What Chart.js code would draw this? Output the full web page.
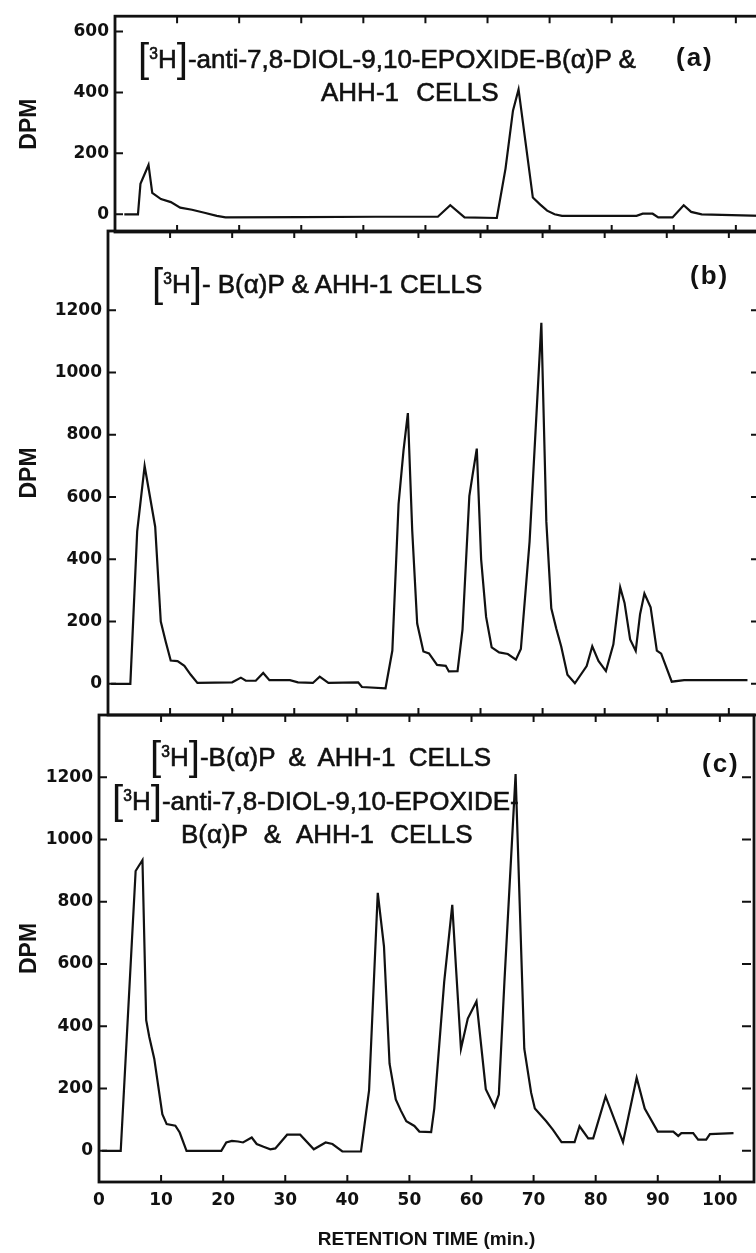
<!DOCTYPE html>
<html>
<head>
<meta charset="utf-8">
<script src="https://cdn.jsdelivr.net/npm/chart.js@4.4.1/dist/chart.umd.min.js"></script>
<style>
  html, body { margin: 0; padding: 0; background: #fff; }
  body { width: 756px; height: 1253px; position: relative; overflow: hidden; }
  canvas { position: absolute; left: 0; }
  .lbl { position: absolute; font-family: "Liberation Sans", Arial, sans-serif; font-size: 26px;
         line-height: 26px; color: #111; white-space: nowrap; -webkit-text-stroke: 0.6px #111; }
  .br { font-size: 1.55em; line-height: 0; vertical-align: -0.1em; -webkit-text-stroke: 0; }
  .lbl sup { font-size: 0.6em; line-height: 0; vertical-align: 0.6em; }
  .tag { font-weight: bold; letter-spacing: 2px; -webkit-text-stroke: 0; }
</style>
</head>
<body>
<canvas id="chartA" width="790" height="250" style="top:0px"></canvas>
<canvas id="chartB" width="790" height="530" style="top:211px"></canvas>
<canvas id="chartC" width="790" height="558" style="top:695px"></canvas>

<div class="lbl" style="left:138px; top:46px"><span class="br">[</span><sup>3</sup>H<span class="br">]</span>-anti-7,8-DIOL-9,10-EPOXIDE-B(α)P &amp;</div>
<div class="lbl" style="left:321px; top:79px; word-spacing:10px">AHH-1 CELLS</div>
<div class="lbl tag" style="left:676px; top:44px">(a)</div>

<div class="lbl" style="left:152px; top:271px"><span class="br">[</span><sup>3</sup>H<span class="br">]</span>- B(α)P &amp; AHH-1 CELLS</div>
<div class="lbl tag" style="left:690px; top:262px">(b)</div>

<div class="lbl" style="left:150px; top:744px; word-spacing:6px"><span class="br">[</span><sup>3</sup>H<span class="br">]</span>-B(α)P &amp; AHH-1 CELLS</div>
<div class="lbl" style="left:112px; top:788px"><span class="br">[</span><sup>3</sup>H<span class="br">]</span>-anti-7,8-DIOL-9,10-EPOXIDE-</div>
<div class="lbl" style="left:181px; top:821px; word-spacing:9px">B(α)P &amp; AHH-1 CELLS</div>
<div class="lbl tag" style="left:702px; top:750px">(c)</div>

<script>
// retention time (min) and DPM
const timeA = [1.5, 3.7, 4.1, 5.4, 6.0, 7.4, 9.0, 10.5, 12.4, 14.4, 16.4, 17.8, 30, 42, 52.0, 54.0, 56.3, 61.5,
  62.9, 64.1, 65.0, 66.1, 67.3, 68.5, 69.6, 70.8, 72, 84.0, 85.0, 86.6, 87.5, 89.8, 91.6, 92.8, 94.5, 104.2];
const dpmA = [0, 0, 100, 162, 70, 50, 40, 22, 15, 5, -5, -10, -9, -8, -8, 30, -10, -12,
  150, 340, 410, 240, 55, 32, 12, 0, -5, -5, 2, 2, -10, -10, 30, 8, 0, -5];

const timeB = [0.5, 3.6, 4.7, 5.9, 7.6, 8.5, 9.3, 10.1, 11.2, 12.3, 13.3, 14.4, 20.0, 21.4, 22.2, 23.8, 25.0, 26.0,
  29.3, 30.6, 33.0, 34.1, 35.5, 40.3, 40.9, 44.7, 45.8, 46.8, 47.6, 48.3, 49.0, 49.8, 50.8, 51.7, 53.0, 54.4,
  54.9, 56.3, 57.1, 58.2, 58.7, 59.4, 60.1, 60.9, 61.8, 63.0, 64.4, 65.7, 66.5, 67.9, 69.0, 69.8, 70.6, 71.4,
  72.2, 73.0, 74.0, 75.2, 77.1, 78.0, 79.0, 80.2, 81.4, 82.5, 83.2, 84.1, 85.0, 85.7, 86.4, 87.4, 88.4, 89.1,
  90.8, 92.8, 103.0];
const dpmB = [0, 0, 490, 700, 505, 200, 135, 75, 73, 58, 30, 3, 5, 20, 10, 10, 35, 12,
  12, 5, 3, 23, 3, 5, -10, -14, 107, 578, 750, 870, 493, 194, 104, 98, 61, 58,
  40, 41, 174, 603, 668, 756, 400, 215, 117, 101, 96, 78, 112, 456, 862, 1160, 522, 243,
  178, 120, 29, 2, 57, 121, 74, 41, 127, 310, 260, 143, 106, 224, 290, 246, 107, 97,
  7, 12, 12];

const timeC = [0.5, 3.5, 5.9, 6.4, 7.0, 7.6, 8.1, 8.9, 10.2, 10.9, 12.3, 13.0, 14.1, 19.7, 20.5, 21.4, 22.4, 23.2,
  24.6, 25.4, 26.5, 27.6, 28.4, 30.3, 32.4, 34.6, 36.5, 37.6, 39.2, 42.2, 43.5, 44.9, 45.9, 46.8, 47.8, 48.6,
  49.5, 50.8, 51.6, 53.5, 54.0, 55.6, 56.9, 57.5, 58.3, 59.4, 60.8, 62.3, 63.7, 64.4, 65.3, 67.1, 68.5, 69.6,
  70.2, 72.0, 73.1, 74.5, 76.6, 77.4, 78.8, 79.6, 81.6, 84.4, 86.6, 87.9, 90.0, 92.5, 93.3, 93.8, 95.7, 96.5,
  97.8, 98.4, 102.2];
const dpmC = [0, 0, 899, 915, 934, 420, 366, 296, 118, 86, 81, 59, 0, 0, 27, 32, 30, 27,
  43, 22, 13, 5, 8, 52, 52, 5, 27, 22, -2, -2, 194, 829, 657, 280, 165, 130,
  95, 80, 62, 60, 136, 543, 790, 589, 328, 425, 480, 198, 141, 181, 543, 1210, 328, 187,
  136, 96, 68, 28, 28, 79, 40, 40, 175, 28, 235, 136, 62, 62, 48, 57, 57, 36,
  36, 54, 57];

const xTicks = [0, 10, 20, 30, 40, 50, 60, 70, 80, 90, 100];
const yTicksA = [0, 200, 400, 600];
const yTicksBC = [0, 200, 400, 600, 800, 1000, 1200];

const INK = '#111';
const tickFont = { family: '"DejaVu Sans", sans-serif', size: 17, weight: 'bold' };

// box around each panel plus the inward tick marks on all four sides
const framePlugin = {
  id: 'frame',
  afterDraw(chart) {
    const { ctx, chartArea: a, scales: { x, y } } = chart;
    ctx.save();
    ctx.strokeStyle = INK;
    ctx.lineWidth = 2.8;
    ctx.strokeRect(a.left, a.top, a.right - a.left, a.bottom - a.top);
    ctx.lineWidth = 2;
    ctx.beginPath();
    xTicks.forEach(v => {
      const px = x.getPixelForValue(v);
      ctx.moveTo(px, a.top); ctx.lineTo(px, a.top + 7);
      ctx.moveTo(px, a.bottom); ctx.lineTo(px, a.bottom - 7);
    });
    y.ticks.forEach(t => {
      const py = y.getPixelForValue(t.value);
      ctx.moveTo(a.left, py); ctx.lineTo(a.left + 8, py);
      ctx.moveTo(a.right - 3, py); ctx.lineTo(a.right - 12, py);
    });
    ctx.stroke();
    ctx.restore();
  }
};

function makePanel(id, times, dpm, p) {
  return new Chart(document.getElementById(id), {
    type: 'line',
    data: {
      datasets: [{
        data: times.map((t, i) => ({ x: t, y: dpm[i] })),
        borderColor: INK,
        borderWidth: 2.2,
        pointRadius: 0,
        tension: 0,
        fill: false
      }]
    },
    options: {
      responsive: false,
      animation: false,
      layout: { autoPadding: false, padding: { top: p.padTop, bottom: p.padBottom, right: p.padRight, left: 0 } },
      plugins: { legend: { display: false }, tooltip: { enabled: false } },
      scales: {
        x: {
          type: 'linear', min: 0, max: 105.5,
          display: p.showX,
          grid: { display: false, drawTicks: false },
          border: { display: false },
          afterBuildTicks: s => { s.ticks = xTicks.map(v => ({ value: v })); },
          afterFit: s => { if (p.showX) s.height = 71; },
          ticks: { color: INK, font: tickFont, padding: 8, maxRotation: 0, autoSkip: false, callback: v => String(v) },
          title: {
            display: true, text: 'RETENTION TIME (min.)', color: INK,
            font: { family: '"Liberation Sans", Arial, sans-serif', size: 19, weight: 'bold' },
            padding: { top: 0, bottom: 2 }
          }
        },
        y: {
          type: 'linear', min: p.yMin, max: p.yMax,
          grid: { display: false, drawTicks: false },
          border: { display: false },
          afterBuildTicks: s => { s.ticks = p.yTicks.map(v => ({ value: v })); },
          afterFit: s => { s.width = p.left; },
          ticks: { color: INK, font: tickFont, padding: 6, callback: v => String(v) },
          title: {
            display: true, text: 'DPM', color: INK,
            font: { family: '"Liberation Sans", Arial, sans-serif', size: 23, weight: 'bold' },
            padding: { top: 16, bottom: 0 }
          }
        }
      }
    },
    plugins: [framePlugin]
  });
}

makePanel('chartA', timeA, dpmA, { left: 115, padRight: 20, padTop: 14, padBottom: 18, yMin: -58, yMax: 650, yTicks: yTicksA, showX: false });
makePanel('chartB', timeB, dpmB, { left: 108, padRight: 27, padTop: 20, padBottom: 26, yMin: -100, yMax: 1455, yTicks: yTicksBC, showX: false });
makePanel('chartC', timeC, dpmC, { left: 99, padRight: 36, padTop: 20, padBottom: 0, yMin: -100, yMax: 1400, yTicks: yTicksBC, showX: true });
</script>
</body>
</html>
